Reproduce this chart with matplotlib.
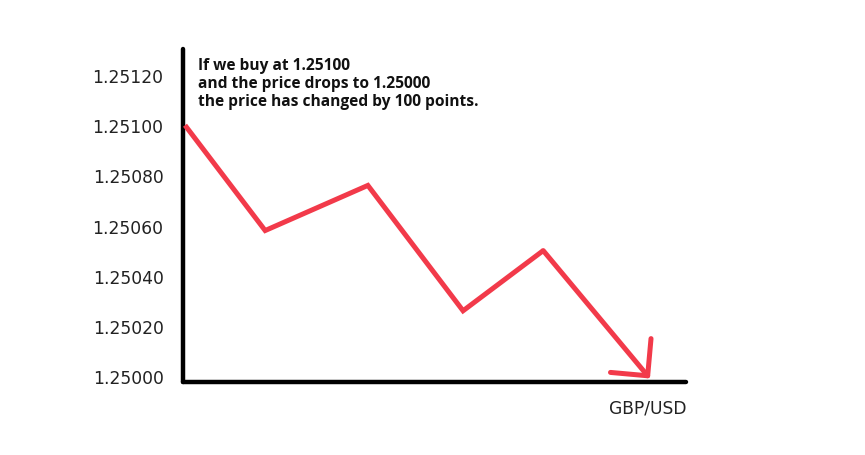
import matplotlib
matplotlib.use("Agg")
import matplotlib.pyplot as plt

# data
x_pos = [0.0, 1.6, 3.65, 5.55, 7.15, 9.28]
prices = [1.25100, 1.25058, 1.25076, 1.25026, 1.25050, 1.24999]
y_ticks = [1.25000, 1.25020, 1.25040, 1.25060, 1.25080, 1.25100, 1.25120]
y_tick_labels = ["1.25000", "1.25020", "1.25040", "1.25060", "1.25080", "1.25100", "1.25120"]
note = "If we buy at 1.25100\nand the price drops to 1.25000\nthe price has changed by 100 points."
pair_label = "GBP/USD"

RED = "#f23a4a"

fig = plt.figure(figsize=(8.65, 4.56), dpi=100)
ax = fig.add_axes([183/865, 1 - 383/456, (686-183)/865, (383-50)/456])

ax.plot(x_pos[:-1], prices[:-1], color=RED, lw=3.6, solid_joinstyle="miter", solid_capstyle="butt", zorder=3)
ax.annotate("", xy=(x_pos[-1], prices[-1]), xytext=(x_pos[-2], prices[-2]),
            arrowprops=dict(arrowstyle="->,head_length=0.95,head_width=0.95", color=RED, lw=3.6,
                            shrinkA=0, shrinkB=0, mutation_scale=20, joinstyle="round", capstyle="round"),
            zorder=3)

ax.set_xlim(-0.04, 10.0)
ax.set_ylim(1.249976, 1.251304)
ax.set_yticks(y_ticks)
ax.set_yticklabels(y_tick_labels, fontsize=12.3, color="#222222")
ax.set_xticks([])
ax.tick_params(axis="y", length=0, pad=14)
for s in ["top", "right"]:
    ax.spines[s].set_visible(False)
for s in ["left", "bottom"]:
    ax.spines[s].set_linewidth(3.2)
    ax.spines[s].set_color("black")
    ax.spines[s].set_capstyle("round")

ax.text(0.03, 0.975, note, transform=ax.transAxes, ha="left", va="top",
        fontsize=11.2, fontweight="bold", family=["Open Sans", "DejaVu Sans"], linespacing=1.15, color="#111111")
ax.text(1.0, -0.05, pair_label, transform=ax.transAxes, ha="right", va="top",
        fontsize=12.3, color="#222222")

fig.savefig("out.png", dpi=100)
